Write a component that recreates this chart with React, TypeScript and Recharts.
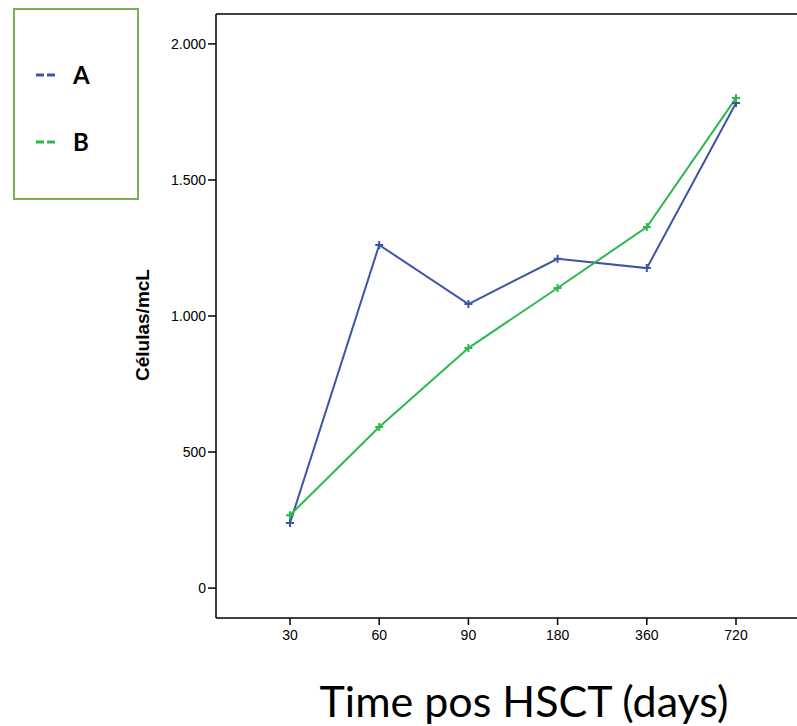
import React from "react";
import { LineChart, Line, XAxis, YAxis, Legend } from "recharts";

const days = ["30", "60", "90", "180", "360", "720"];
const groupA = [239, 1261, 1044, 1210, 1176, 1783];
const groupB = [268, 592, 882, 1103, 1327, 1801];
const yTicks = [0, 500, 1000, 1500, 2000];

const BLUE = "#3d55a5";
const GREEN = "#2db84b";

const data = days.map((d, i) => ({ day: d, A: groupA[i], B: groupB[i] }));

function formatTick(v: number): string {
  return v.toLocaleString("de-DE");
}

function PlusDot(props: any) {
  const { cx, cy, stroke } = props;
  if (cx == null || cy == null) return null;
  return (
    <path
      d={`M${cx - 4},${cy}H${cx + 4}M${cx},${cy - 4}V${cy + 4}`}
      stroke={stroke}
      strokeWidth={2}
      fill="none"
    />
  );
}

function LegendBox() {
  const items = [
    { label: "A", color: BLUE, top: 58 },
    { label: "B", color: GREEN, top: 125 },
  ];
  return (
    <div
      style={{
        position: "absolute",
        left: 13,
        top: 8,
        width: 122,
        height: 188,
        border: "2px solid #77b255",
      }}
    >
      {items.map((it) => (
        <div
          key={it.label}
          style={{ position: "absolute", left: 20, top: it.top - 8, display: "flex", alignItems: "center" }}
        >
          <svg width={22} height={6}>
            <line x1={1} y1={3} x2={21} y2={3} stroke={it.color} strokeWidth={3} strokeDasharray="8 3" />
          </svg>
          <span
            style={{
              marginLeft: 16,
              fontFamily: "Lato, 'Open Sans', sans-serif",
              fontWeight: 700,
              fontSize: 24,
              color: "#000",
            }}
          >
            {it.label}
          </span>
        </div>
      ))}
    </div>
  );
}

export default function App() {
  return (
    <div
      style={{
        position: "absolute",
        left: 0,
        top: 0,
        width: 797,
        height: 726,
        overflow: "hidden",
        background: "#fff",
      }}
    >
      <LineChart
        width={830}
        height={726}
        data={data}
        margin={{ top: 14, right: 20, bottom: 78, left: 156 }}
      >
        <XAxis
          dataKey="day"
          padding={{ left: 74, right: 74 }}
          axisLine={{ stroke: "#000", strokeWidth: 1.5 }}
          tickLine={{ stroke: "#000", strokeWidth: 1.5 }}
          tickSize={7}
          height={30}
          tick={{ fill: "#000", fontSize: 14, dy: 3, fontFamily: "'Liberation Sans', Arial, sans-serif" }}
        />
        <YAxis
          domain={[-110, 2110]}
          ticks={yTicks}
          allowDataOverflow
          tickFormatter={formatTick}
          width={60}
          axisLine={{ stroke: "#000", strokeWidth: 1.5 }}
          tickLine={{ stroke: "#000", strokeWidth: 1.5 }}
          tickSize={8}
          tick={{ fill: "#000", fontSize: 14, fontFamily: "'Liberation Sans', Arial, sans-serif" }}
        />
        <Legend content={() => null} />
        <Line
          type="linear"
          dataKey="A"
          stroke={BLUE}
          strokeWidth={2}
          dot={<PlusDot />}
          activeDot={false}
          isAnimationActive={false}
        />
        <Line
          type="linear"
          dataKey="B"
          stroke={GREEN}
          strokeWidth={2}
          dot={<PlusDot />}
          activeDot={false}
          isAnimationActive={false}
        />
        <line x1={216} y1={14} x2={830} y2={14} stroke="#000" strokeWidth={1.5} />
        <text
          x={149}
          y={325}
          transform="rotate(-90 149 325)"
          textAnchor="middle"
          fontFamily="'Liberation Sans', Arial, sans-serif"
          fontWeight={700}
          fontSize={19}
          fill="#000"
        >
          Células/mcL
        </text>
      </LineChart>
      <LegendBox />
      <div
        style={{
          position: "absolute",
          left: 0,
          width: 1048,
          top: 675,
          textAlign: "center",
          fontFamily: "Lato, 'Open Sans', sans-serif",
          fontSize: 43,
          color: "#000",
        }}
      >
        Time pos HSCT (days)
      </div>
    </div>
  );
}
